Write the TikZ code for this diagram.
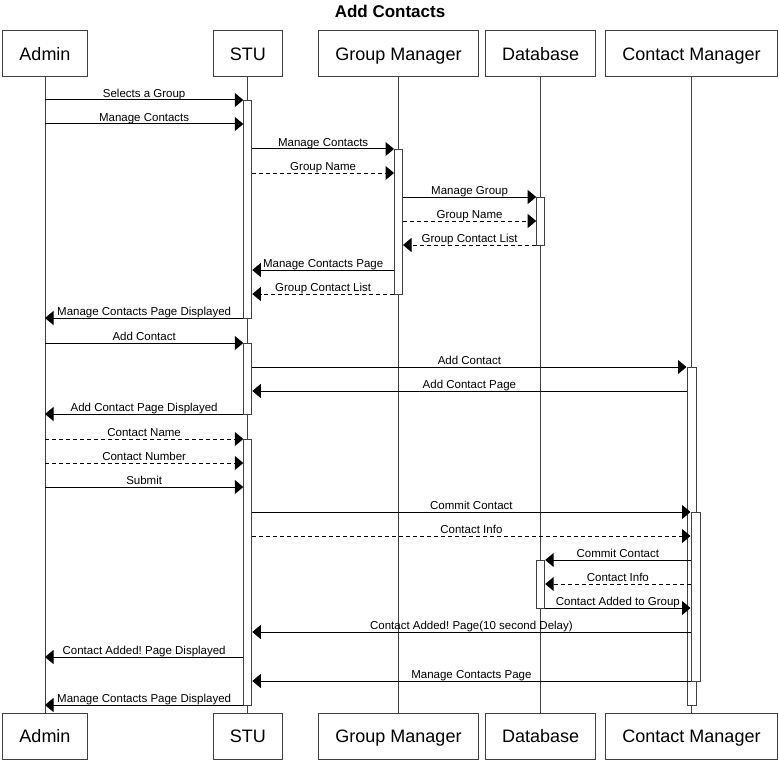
\documentclass[tikz,border=0pt]{standalone}
\usepackage{fontspec}
\setmainfont{Liberation Sans}
\usetikzlibrary{arrows.meta}
\frenchspacing
\begin{document}
\begin{tikzpicture}[x=1pt,y=-1pt,
  actor/.style={draw=black!75, line width=1pt, fill=white, inner sep=0pt,
    minimum height=46pt, font=\fontsize{18}{20}\selectfont,
    text height=12.9pt, text depth=0pt},
  life/.style={draw=black!75, line width=1pt},
  bar/.style={draw=black!75, line width=1pt, fill=white, inner sep=0pt,
    minimum width=8pt, anchor=north},
  msg/.style={draw=black, line width=1pt,
    -{Triangle[length=8.5pt,width=14pt]}},
  reply/.style={msg, dash pattern=on 4pt off 3pt},
  lbl/.style={font=\fontsize{11.5}{13}\selectfont, anchor=base,
    yshift=2.5pt, inner sep=0pt}]
\useasboundingbox (0,0) rectangle (779,765);

% title
\node[font=\fontsize{17}{20}\selectfont\bfseries, anchor=base] (title) at (390,17.3) {Add Contacts};

% participants, top and bottom
\node[actor, minimum width=84.5pt] (adminT) at (45,54) {Admin};
\node[actor, minimum width=69pt] (stuT) at (247.8,54) {STU};
\node[actor, minimum width=160.4pt] (gmT) at (398.5,54) {Group Manager};
\node[actor, minimum width=110pt] (dbT) at (540.7,54) {Database};
\node[actor, minimum width=171.6pt] (cmT) at (691.5,54) {Contact Manager};

\node[actor, minimum width=84.5pt] (adminB) at (45,736.5) {Admin};
\node[actor, minimum width=69pt] (stuB) at (247.8,736.5) {STU};
\node[actor, minimum width=160.4pt] (gmB) at (398.5,736.5) {Group Manager};
\node[actor, minimum width=110pt] (dbB) at (540.7,736.5) {Database};
\node[actor, minimum width=171.6pt] (cmB) at (691.5,736.5) {Contact Manager};

% lifelines
\foreach \p in {admin,stu,gm,db,cm}
  \draw[life] (\p T.south) -- (\p B.north);

% activation bars
\node[bar, minimum height=218pt] (stu1) at (stuT.south |- 0,100) {};
\node[bar, minimum height=145pt] (gm1) at (gmT.south |- 0,149) {};
\node[bar, minimum height=48pt] (db1) at (dbT.south |- 0,197) {};
\node[bar, minimum height=71pt] (stu2) at (stuT.south |- 0,343) {};
\node[bar, minimum height=338pt, minimum width=9pt] (cm1) at (cmT.south |- 0,367) {};
\node[bar, minimum height=266pt] (stu3) at (stuT.south |- 0,439) {};
\node[bar, minimum height=169pt, minimum width=9pt, xshift=4pt] (cm2) at (cmT.south |- 0,512) {};
\node[bar, minimum height=48pt] (db2) at (dbT.south |- 0,560) {};

% messages: style, from, to, y, text
\newcommand\msgline[5]{\draw[#1] (#2 |- 0,#4) -- node[lbl]{#5} (#3 |- 0,#4);}

\msgline{msg}{adminT.south}{stu1.west}{100}{Selects a Group}
\msgline{msg}{adminT.south}{stu1.west}{124}{Manage Contacts}
\msgline{msg}{stu1.east}{gm1.west}{149}{Manage Contacts}
\msgline{reply}{stu1.east}{gm1.west}{173}{Group Name}
\msgline{msg}{gm1.east}{db1.west}{197}{Manage Group}
\msgline{reply}{gm1.east}{db1.west}{221}{Group Name}
\msgline{reply}{db1.west}{gm1.east}{245}{Group Contact List}
\msgline{msg}{gm1.west}{stu1.east}{270}{Manage Contacts Page}
\msgline{reply}{gm1.west}{stu1.east}{294}{Group Contact List}
\msgline{msg}{stu1.west}{adminT.south}{318}{Manage Contacts Page Displayed}
\msgline{msg}{adminT.south}{stu2.west}{343}{Add Contact}
\msgline{msg}{stu2.east}{cm1.west}{367}{Add Contact}
\msgline{msg}{cm1.west}{stu2.east}{391}{Add Contact Page}
\msgline{msg}{stu2.west}{adminT.south}{414}{Add Contact Page Displayed}
\msgline{reply}{adminT.south}{stu3.west}{439}{Contact Name}
\msgline{reply}{adminT.south}{stu3.west}{463}{Contact Number}
\msgline{msg}{adminT.south}{stu3.west}{487}{Submit}
\msgline{msg}{stu3.east}{cm2.west}{512}{Commit Contact}
\msgline{reply}{stu3.east}{cm2.west}{536}{Contact Info}
\msgline{msg}{cm2.west}{db2.east}{560}{Commit Contact}
\msgline{reply}{cm2.west}{db2.east}{584}{Contact Info}
\msgline{msg}{db2.east}{cm2.west}{608}{Contact Added to Group}
\msgline{msg}{cm2.west}{stu3.east}{632}{Contact Added! Page(10 second Delay)}
\msgline{msg}{stu3.west}{adminT.south}{657}{Contact Added! Page Displayed}
\msgline{msg}{cm2.west}{stu3.east}{681}{Manage Contacts Page}
\msgline{msg}{stu3.west}{adminT.south}{705}{Manage Contacts Page Displayed}
\end{tikzpicture}
\end{document}
